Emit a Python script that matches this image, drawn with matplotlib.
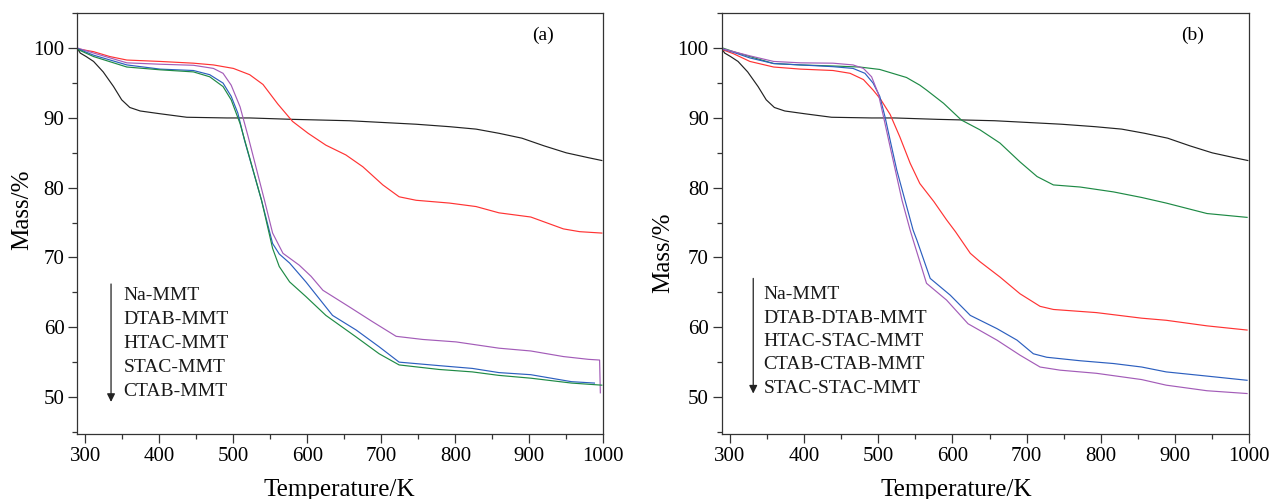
import matplotlib
matplotlib.use("Agg")
import matplotlib.pyplot as plt
from matplotlib.ticker import MultipleLocator

plt.rcParams['font.family'] = ['Liberation Serif', 'DejaVu Serif']

# ---------------- data: panel (a) ----------------
na_x = [290, 293, 301, 311, 324, 338, 349, 360, 374, 401, 437, 491, 522, 580, 657, 747, 792, 828, 859, 890, 920, 950, 980, 998]
na_y = [99.8, 99.3, 98.8, 98.1, 96.6, 94.5, 92.6, 91.5, 91.0, 90.6, 90.1, 90.0, 90.0, 89.8, 89.6, 89.1, 88.75, 88.4, 87.8, 87.1, 86.0, 85.0, 84.3, 83.9]

dtab_x = [290, 311, 333, 356, 401, 446, 473, 500, 522, 540, 560, 580, 601, 625, 652, 675, 702, 724, 747, 792, 828, 859, 902, 946, 968, 998]
dtab_y = [99.9, 99.5, 98.8, 98.3, 98.1, 97.85, 97.6, 97.1, 96.2, 94.8, 92.0, 89.5, 87.8, 86.1, 84.7, 83.0, 80.4, 78.7, 78.2, 77.8, 77.3, 76.4, 75.8, 74.1, 73.7, 73.5]

htac_x = [290, 311, 356, 401, 446, 473, 486, 497, 509, 520, 542, 553, 567, 589, 605, 621, 657, 688, 720, 756, 801, 859, 902, 946, 980, 995, 996]
htac_y = [100.0, 99.3, 97.9, 97.7, 97.55, 97.1, 96.4, 94.7, 91.6, 87.3, 78.2, 73.5, 70.6, 68.9, 67.3, 65.3, 62.9, 60.8, 58.7, 58.25, 57.9, 57.0, 56.6, 55.8, 55.4, 55.3, 50.6]

stac_x = [290, 311, 356, 401, 446, 468, 486, 497, 506, 515, 538, 553, 562, 576, 598, 634, 666, 697, 724, 778, 823, 859, 902, 957, 988]
stac_y = [99.9, 99.0, 97.6, 97.0, 96.8, 96.2, 95.0, 93.1, 90.7, 86.8, 78.2, 72.0, 70.5, 69.2, 66.5, 61.7, 59.6, 57.2, 55.0, 54.5, 54.1, 53.5, 53.2, 52.2, 52.0]

ctab_x = [290, 311, 356, 401, 446, 468, 486, 497, 509, 538, 553, 562, 576, 598, 625, 666, 697, 724, 778, 823, 859, 902, 957, 998]
ctab_y = [99.8, 98.8, 97.3, 96.9, 96.6, 95.9, 94.5, 92.6, 89.2, 78.2, 71.3, 68.7, 66.5, 64.4, 61.7, 58.6, 56.2, 54.6, 53.95, 53.6, 53.1, 52.7, 52.0, 51.7]

labels_a = ["Na-MMT", "DTAB-MMT", "HTAC-MMT", "STAC-MMT", "CTAB-MMT"]

# ---------------- data: panel (b) ----------------
dd_x = [291, 305, 327, 359, 395, 439, 475, 502, 538, 556, 565, 588, 612, 637, 664, 691, 714, 736, 772, 817, 855, 888, 943, 997]
dd_y = [100.0, 99.5, 98.8, 97.8, 97.6, 97.45, 97.3, 96.95, 95.8, 94.7, 94.0, 92.1, 89.7, 88.3, 86.4, 83.7, 81.6, 80.4, 80.1, 79.4, 78.6, 77.8, 76.3, 75.75]

hs_x = [291, 305, 327, 359, 395, 439, 462, 480, 493, 503, 516, 529, 543, 556, 575, 592, 604, 624, 637, 664, 691, 718, 736, 794, 855, 888, 943, 997]
hs_y = [99.75, 99.2, 98.1, 97.3, 97.0, 96.8, 96.4, 95.5, 94.0, 92.7, 90.5, 87.3, 83.5, 80.6, 78.0, 75.4, 73.7, 70.6, 69.4, 67.2, 64.8, 63.0, 62.55, 62.1, 61.3, 61.0, 60.2, 59.6]

cc_x = [291, 305, 327, 359, 395, 439, 466, 482, 493, 502, 509, 516, 525, 536, 547, 552, 570, 597, 624, 660, 687, 709, 727, 772, 817, 855, 888, 943, 997]
cc_y = [99.85, 99.4, 98.6, 97.8, 97.6, 97.35, 97.1, 96.4, 95.0, 93.1, 90.2, 86.8, 82.5, 78.2, 73.9, 72.5, 67.0, 64.6, 61.7, 59.8, 58.15, 56.2, 55.7, 55.2, 54.8, 54.3, 53.6, 53.0, 52.4]

ss_x = [291, 305, 327, 359, 395, 439, 466, 480, 491, 500, 507, 514, 523, 532, 543, 547, 565, 592, 621, 660, 691, 718, 745, 794, 855, 888, 943, 997]
ss_y = [99.9, 99.5, 98.9, 98.1, 97.9, 97.85, 97.6, 97.1, 95.9, 93.5, 90.2, 86.8, 82.5, 78.2, 73.9, 72.5, 66.3, 63.9, 60.5, 58.15, 56.0, 54.3, 53.85, 53.4, 52.5, 51.7, 50.9, 50.5]

labels_b = ["Na-MMT", "DTAB-DTAB-MMT", "HTAC-STAC-MMT", "CTAB-CTAB-MMT", "STAC-STAC-MMT"]

C_BLACK = "#222222"
C_RED = "#ff3333"
C_PURPLE = "#a35cb8"
C_BLUE = "#2c5fbf"
C_GREEN = "#1e8a45"

W, H = 1273, 499
fig = plt.figure(figsize=(W / 100, H / 100), dpi=100)

def px_axes(left, right, top, bottom):
    return fig.add_axes([left / W, 1 - bottom / H, (right - left) / W, (bottom - top) / H])

ax_a = px_axes(77.3, 603.3, 13.3, 434)
ax_b = px_axes(721.7, 1249.3, 13.3, 434)

series_a = [(na_x, na_y, C_BLACK), (dtab_x, dtab_y, C_RED), (htac_x, htac_y, C_PURPLE),
            (stac_x, stac_y, C_BLUE), (ctab_x, ctab_y, C_GREEN)]
series_b = [(na_x, na_y, C_BLACK), (dd_x, dd_y, C_GREEN), (hs_x, hs_y, C_RED),
            (cc_x, cc_y, C_BLUE), (ss_x, ss_y, C_PURPLE)]

for ax, series in ((ax_a, series_a), (ax_b, series_b)):
    for xs, ys, c in series:
        ax.plot(xs, ys, color=c, lw=0.85, solid_joinstyle='round')
    ax.set_xlim(289, 1000)
    ax.set_ylim(44.7, 105)
    ax.xaxis.set_major_locator(MultipleLocator(100))
    ax.xaxis.set_minor_locator(MultipleLocator(50))
    ax.yaxis.set_major_locator(MultipleLocator(10))
    ax.yaxis.set_minor_locator(MultipleLocator(5))
    ax.set_yticks([50, 60, 70, 80, 90, 100])
    ax.tick_params(which='major', direction='out', length=6.3, width=0.9, color='#333333',
                   labelsize=15, pad=3, top=False, right=False)
    ax.tick_params(which='minor', direction='out', length=3.5, width=0.9, color='#333333',
                   top=False, right=False)
    for sp in ax.spines.values():
        sp.set_color('#333333')
        sp.set_linewidth(0.9)
    ax.set_xlabel("Temperature/K", fontsize=18)
    ax.set_ylabel("Mass/%", fontsize=18)
    ax.xaxis.label.set_verticalalignment('center')
    ax.yaxis.label.set_verticalalignment('center')

# label positions (axes fraction)
ax_a.xaxis.set_label_coords(0.4975, -0.134)
ax_b.xaxis.set_label_coords(0.444, -0.134)
ax_a.yaxis.set_label_coords((22.4 - 77.3) / 526, (434 - 210) / 420.7)
ax_b.yaxis.set_label_coords((663 - 721.7) / 527.6, (434 - 253) / 420.7)

# panel tags
ax_a.text(918, 101.8, "(a)", fontsize=14, ha='center', va='center')
ax_b.text(923.6, 101.8, "(b)", fontsize=14, ha='center', va='center')

# legend-like text lists with arrows
def text_list(ax, labels, x_text, y0, step, x_arrow, y_top, y_tip):
    for i, lab in enumerate(labels):
        ax.text(x_text, y0 - i * step, lab, fontsize=14, ha='left', va='baseline', color='#1a1a1a')
    ax.annotate("", xy=(x_arrow, y_tip), xytext=(x_arrow, y_top),
                arrowprops=dict(arrowstyle='-|>', color='#222222', lw=0.9,
                                mutation_scale=12, shrinkA=0, shrinkB=0))

text_list(ax_a, labels_a, 351.2, 63.9, 3.45, 334.6, 66.2, 49.3)
text_list(ax_b, labels_b, 345.0, 64.0, 3.35, 331.5, 67.0, 50.5)

fig.savefig("out.png", dpi=100)
